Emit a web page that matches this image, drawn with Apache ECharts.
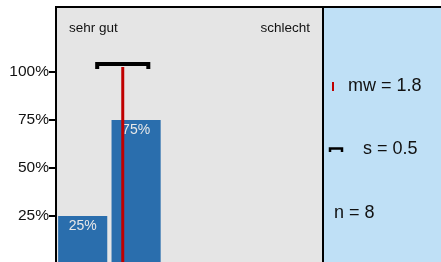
<!DOCTYPE html>
<html>
<head>
<meta charset="utf-8">
<script src="https://cdn.jsdelivr.net/npm/echarts@6/dist/echarts.min.js"></script>
<style>
  html, body { margin: 0; padding: 0; background: #fff; }
  #chart { width: 441px; height: 262px; }
</style>
</head>
<body>
<div id="chart"></div>
<script>
// answer categories 1 (sehr gut) .. 5 (schlecht)
const categories = ['1', '2', '3', '4', '5']
const percentValues = [25, 75, 0, 0, 0]
const scaleEnds = ['sehr gut', 'schlecht']
const yTicks = [0, 25, 50, 75, 100]

const meanValue = 1.75
const sdValue = 0.46
const nCount = 8

const font = 'Liberation Sans, Arial, sans-serif'
const chart = echarts.init(document.getElementById('chart'))

const option = {
    animation: false,
    // axis zero sits just below the picture edge
    grid: { left: 56, top: 72, width: 267, height: 192, outerBoundsMode: 'none' },
    xAxis: [
        {
            type: 'category',
            data: categories,
            show: false,
        },
        {
            type: 'value',
            min: 0.5,
            max: 5.5,
            show: false,
        },
    ],
    yAxis: {
        type: 'value',
        min: yTicks[0],
        max: yTicks[yTicks.length - 1],
        interval: 25,
        axisLine: { show: false },
        axisTick: { show: true, length: 7, lineStyle: { color: '#000', width: 2 } },
        splitLine: { show: false },
        axisLabel: {
            margin: 7,
            fontSize: 15.5,
            fontFamily: font,
            color: '#111',
            formatter: (v) => (v === 0 ? '' : v + '%'),
        },
    },
    graphic: [
        {
            type: 'rect',
            z: -10,
            shape: { x: 56, y: 7, width: 267, height: 262 },
            style: { fill: '#e5e5e5', stroke: '#000', lineWidth: 2 },
        },
        {
            type: 'rect',
            z: -10,
            shape: { x: 323, y: 7, width: 130, height: 262 },
            style: { fill: '#bfe0f6', stroke: '#000', lineWidth: 2 },
        },
        {
            type: 'text',
            x: 69, y: 28,
            style: { text: scaleEnds[0], font: '13.5px ' + font, fill: '#111', verticalAlign: 'middle' },
        },
        {
            type: 'text',
            x: 310, y: 28,
            style: { text: scaleEnds[1], font: '13.5px ' + font, fill: '#111', align: 'right', verticalAlign: 'middle' },
        },
        // legend: mean
        {
            type: 'line',
            shape: { x1: 333, y1: 82, x2: 333, y2: 91 },
            style: { stroke: '#c00000', lineWidth: 2 },
        },
        {
            type: 'text',
            x: 348, y: 86,
            style: { text: 'mw = ' + meanValue.toFixed(1), font: '18px ' + font, fill: '#111', verticalAlign: 'middle' },
        },
        // legend: standard deviation
        {
            type: 'polyline',
            shape: { points: [[330, 152], [330, 148.5], [342, 148.5], [342, 152]] },
            style: { stroke: '#000', lineWidth: 2.5, fill: null },
        },
        {
            type: 'text',
            x: 363, y: 149,
            style: { text: 's = ' + sdValue.toFixed(1), font: '18px ' + font, fill: '#111', verticalAlign: 'middle' },
        },
        // legend: n
        {
            type: 'text',
            x: 334, y: 213.5,
            style: { text: 'n = ' + nCount, font: '18px ' + font, fill: '#111', verticalAlign: 'middle' },
        },
    ],
    series: [
        {
            type: 'bar',
            data: percentValues,
            barCategoryGap: '8%',
            itemStyle: { color: '#2a6ead' },
            label: {
                show: true,
                position: 'insideTop',
                distance: 3,
                fontSize: 14,
                fontFamily: font,
                color: '#e8e8e8',
                formatter: (p) => (p.value > 0 ? p.value + '%' : ''),
            },
        },
        {
            type: 'custom',
            xAxisIndex: 1,
            yAxisIndex: 0,
            clip: false,
            z: 5,
            data: [[meanValue, sdValue]],
            renderItem: (params, api) => {
                const m = api.value(0)
                const s = api.value(1)
                const base = api.coord([m, 0])
                const top = api.coord([m, 100])
                const left = api.coord([m - s, 100])
                const right = api.coord([m + s, 100])
                const by = top[1] - 8
                return {
                    type: 'group',
                    children: [
                        {
                            type: 'line',
                            shape: { x1: base[0], y1: base[1], x2: base[0], y2: top[1] - 5 },
                            style: { stroke: '#c00000', lineWidth: 3 },
                        },
                        {
                            type: 'polyline',
                            shape: {
                                points: [
                                    [left[0] - 1, by + 5],
                                    [left[0] - 1, by],
                                    [right[0] + 1, by],
                                    [right[0] + 1, by + 5],
                                ],
                            },
                            style: { stroke: '#000', lineWidth: 4, fill: null },
                        },
                    ],
                }
            },
        },
    ],
}

chart.setOption(option)
</script>
</body>
</html>
